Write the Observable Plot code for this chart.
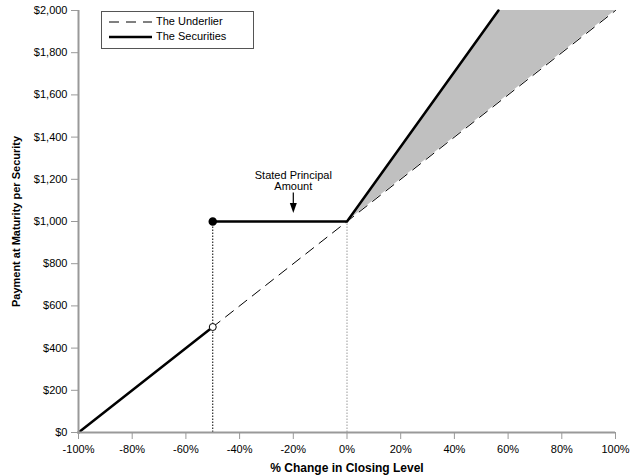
<!DOCTYPE html>
<html><head><meta charset="utf-8">
<script src="https://cdn.jsdelivr.net/npm/d3@7"></script>
<script src="https://cdn.jsdelivr.net/npm/@observablehq/plot@0.6"></script>
<style>
body{margin:0;background:#fff;font-family:"Liberation Sans",Arial,sans-serif;}
#wrap{position:relative;width:635px;height:476px;}
#legend{position:absolute;left:101px;top:11px;width:151px;height:36px;border:1px solid #555;background:#fff;font-size:11px;}
#legend div{position:absolute;left:0;height:12px;}
</style></head>
<body><div id="wrap"><div id="chart"></div>
<div id="legend">
<div style="top:4px"><svg width="50" height="12" style="position:absolute;left:5px"><line x1="2" y1="6" x2="45" y2="6" stroke="#000" stroke-width="1" stroke-dasharray="10,7"/></svg><span style="position:absolute;left:54px;top:-1px;white-space:nowrap">The Underlier</span></div>
<div style="top:19px"><svg width="50" height="12" style="position:absolute;left:5px"><line x1="2" y1="6" x2="45" y2="6" stroke="#000" stroke-width="2.5"/></svg><span style="position:absolute;left:54px;top:-1px;white-space:nowrap">The Securities</span></div>
</div></div>
<script>
const xTicks = [-100,-80,-60,-40,-20,0,20,40,60,80,100];
const yTicks = [0,200,400,600,800,1000,1200,1400,1600,1800,2000];
const underlierX = [-100, 100];
const underlierY = [0, 2000];
const secLowX = [-100, -50];
const secLowY = [0, 500];
const secHighX = [-50, 0, 56.4];
const secHighY = [1000, 1000, 2000];
const shadeX = [0, 56.4, 100];
const shadeLow = [1000, 1564, 2000];
const shadeHigh = [1000, 2000, 2000];
const barrierX = -50;
const barrierFilledY = 1000;
const barrierOpenY = 500;
const annotationX = -20;
const annotationText = ["Stated Principal", "Amount"];
const annotationY = [1218, 1168];
const arrowY = [1135, 1040];

const zip = (xs, ys) => xs.map((x,i)=>({x, y: ys[i]}));
const shade = shadeX.map((x,i)=>({x, y1: shadeLow[i], y2: shadeHigh[i]}));
const fmtD = d => "$" + d3.format(",")(d);
// downward arrowhead with its tip at the anchor point
const arrowHead = {draw(ctx){ ctx.moveTo(0,0); ctx.lineTo(-3.5,-10); ctx.lineTo(3.5,-10); ctx.closePath(); }};

const plot = Plot.plot({
  width: 635, height: 476,
  marginLeft: 78, marginRight: 20, marginTop: 10, marginBottom: 44,
  style: {fontFamily: '"Liberation Sans", Arial, sans-serif', fontSize: "11px", color: "#000", background: "#fff"},
  x: {domain: [-100, 100], ticks: xTicks, tickFormat: d => d + "%", label: null},
  y: {domain: [0, 2000], ticks: yTicks, tickFormat: fmtD, label: null},
  marks: [
    Plot.areaY(shade, {x: "x", y1: "y1", y2: "y2", fill: "#c0c0c0"}),
    Plot.ruleX([barrierX], {y1: 0, y2: barrierFilledY, stroke: "#000", strokeWidth: 1, strokeDasharray: "1.5,1.5"}),
    Plot.ruleX([0], {y1: 0, y2: 1000, stroke: "#999", strokeWidth: 1, strokeDasharray: "1.5,1.5"}),
    Plot.line(zip(underlierX, underlierY), {x: "x", y: "y", stroke: "#000", strokeWidth: 1, strokeDasharray: "10,7"}),
    Plot.line(zip(secLowX, secLowY), {x: "x", y: "y", stroke: "#000", strokeWidth: 2.5}),
    Plot.line(zip(secHighX, secHighY), {x: "x", y: "y", stroke: "#000", strokeWidth: 2.5}),
    Plot.dot([{x: barrierX, y: barrierFilledY}], {x: "x", y: "y", r: 3.5, fill: "#000", stroke: "#000"}),
    Plot.dot([{x: barrierX, y: barrierOpenY}], {x: "x", y: "y", r: 3.5, fill: "#fff", stroke: "#000", strokeWidth: 1}),
    Plot.text(annotationText.map((t,i)=>({t, y: annotationY[i]})), {x: () => annotationX, y: "y", text: "t", fontSize: 11, fill: "#000"}),
    Plot.ruleX([annotationX], {y1: arrowY[0], y2: arrowY[1] + 30, stroke: "#000", strokeWidth: 1.2}),
    Plot.dot([{x: annotationX, y: arrowY[1]}], {x: "x", y: "y", symbol: arrowHead, fill: "#000", stroke: "none"}),
    Plot.ruleX([-100], {stroke: "#999", strokeWidth: 2}),
    Plot.ruleY([0], {stroke: "#999", strokeWidth: 2}),
    Plot.axisX({ticks: xTicks, tickFormat: d => d + "%", tickSize: 7, tickPadding: 6, stroke: "#999", fill: "#000", label: null}),
    Plot.axisY({ticks: yTicks, tickFormat: fmtD, tickSize: 7, tickPadding: 4, stroke: "#999", fill: "#000", label: null}),
    Plot.text(["% Change in Closing Level"], {frameAnchor: "bottom", dy: 39, fontWeight: "bold", fontSize: 12, fill: "#000"}),
    Plot.text(["Payment at Maturity per Security"], {frameAnchor: "left", textAnchor: "middle", dx: -62, rotate: -90, fontWeight: "bold", fontSize: 11, fill: "#000"})
  ]
});
document.getElementById("chart").appendChild(plot);
</script></body></html>
